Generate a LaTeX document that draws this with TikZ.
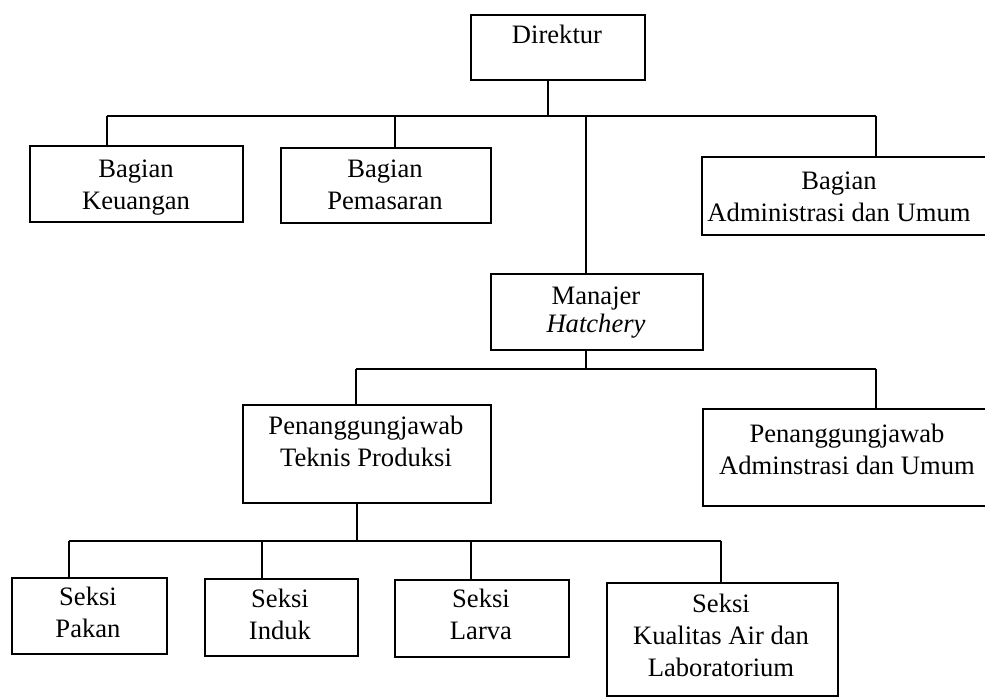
\documentclass[tikz,border=0pt]{standalone}
\usepackage{fontspec}
\setmainfont{Liberation Serif}
\newcommand\boxlines[1]{\begin{tabular}[t]{@{}c@{}}#1\end{tabular}}
\begin{document}
\begin{tikzpicture}[x=1pt,y=-1pt,
  box/.style={draw,line width=2.2pt,inner sep=0pt,anchor=north west,rectangle},
  lbl/.style={anchor=base,inner sep=0pt,font=\fontsize{26.6}{32}\selectfont},
  con/.style={line width=2pt}]
\useasboundingbox (0,0) rectangle (985,697);
% boxes
\node[box,minimum width=174pt,minimum height=65pt] (dir) at (470,14) {};
\node[box,minimum width=213pt,minimum height=76pt] (keu) at (29,145) {};
\node[box,minimum width=210pt,minimum height=75pt] (pem) at (280,147) {};
\node[box,minimum width=291pt,minimum height=78pt] (badm) at (701,156) {};
\node[box,minimum width=212pt,minimum height=76pt] (man) at (490,273) {};
\node[box,minimum width=248pt,minimum height=98pt] (ptp) at (242,404) {};
\node[box,minimum width=290pt,minimum height=97pt] (pau) at (702,408) {};
\node[box,minimum width=155pt,minimum height=76pt] (pak) at (11,577) {};
\node[box,minimum width=153pt,minimum height=77pt] (ind) at (204,578) {};
\node[box,minimum width=174pt,minimum height=77pt] (lar) at (394,579) {};
\node[box,minimum width=231pt,minimum height=113pt] (kua) at (606,582) {};
% texts
\node[lbl] (dirT) at (557,43) {Direktur};
\node[lbl] (keuT) at (136,177) {\boxlines{Bagian\\Keuangan}};
\node[lbl] (pemT) at (385,177) {\boxlines{Bagian\\Pemasaran}};
\node[lbl] (badmT) at (839,189) {\boxlines{Bagian\\Administrasi dan Umum}};
\node[lbl] (manT) at (596,304) {\boxlines{Manajer\\[-4pt]\textit{Hatchery}}};
\node[lbl] (ptpT) at (366,434) {\boxlines{Penanggungjawab\\Teknis Produksi}};
\node[lbl] (pauT) at (847,442) {\boxlines{Penanggungjawab\\Adminstrasi dan Umum}};
\node[lbl] (pakT) at (88,605) {\boxlines{Seksi\\Pakan}};
\node[lbl] (indT) at (280,607) {\boxlines{Seksi\\Induk}};
\node[lbl] (larT) at (481,607) {\boxlines{Seksi\\Larva}};
\node[lbl] (kuaT) at (721,612) {\boxlines{Seksi\\Kualitas Air dan\\Laboratorium}};
% junction coordinates
\coordinate (j0) at (548,116);
\coordinate (hL) at (107,116);
\coordinate (hR) at (876,116);
\coordinate (p1) at (395,116);
\coordinate (c1) at (586,116);
\coordinate (m1) at (586,369);
\coordinate (mL) at (356,369);
\coordinate (mR) at (876,369);
\coordinate (s0) at (357,541);
\coordinate (sL) at (69,541);
\coordinate (sR) at (721,541);
\coordinate (s2) at (262,541);
\coordinate (s3) at (471,541);
% connectors
\draw[con] (j0 |- dir.south) -- (j0);
\draw[con] (hL) -- (hR);
\draw[con] (hL) -- (hL |- keu.north);
\draw[con] (p1) -- (p1 |- pem.north);
\draw[con] (c1) -- (c1 |- man.north);
\draw[con] (hR) -- (hR |- badm.north);
\draw[con] (m1 |- man.south) -- (m1);
\draw[con] (mL) -- (mR);
\draw[con] (mL) -- (mL |- ptp.north);
\draw[con] (mR) -- (mR |- pau.north);
\draw[con] (s0 |- ptp.south) -- (s0);
\draw[con] (sL) -- (sR);
\draw[con] (sL) -- (sL |- pak.north);
\draw[con] (s2) -- (s2 |- ind.north);
\draw[con] (s3) -- (s3 |- lar.north);
\draw[con] (sR) -- (sR |- kua.north);
\end{tikzpicture}
\end{document}
